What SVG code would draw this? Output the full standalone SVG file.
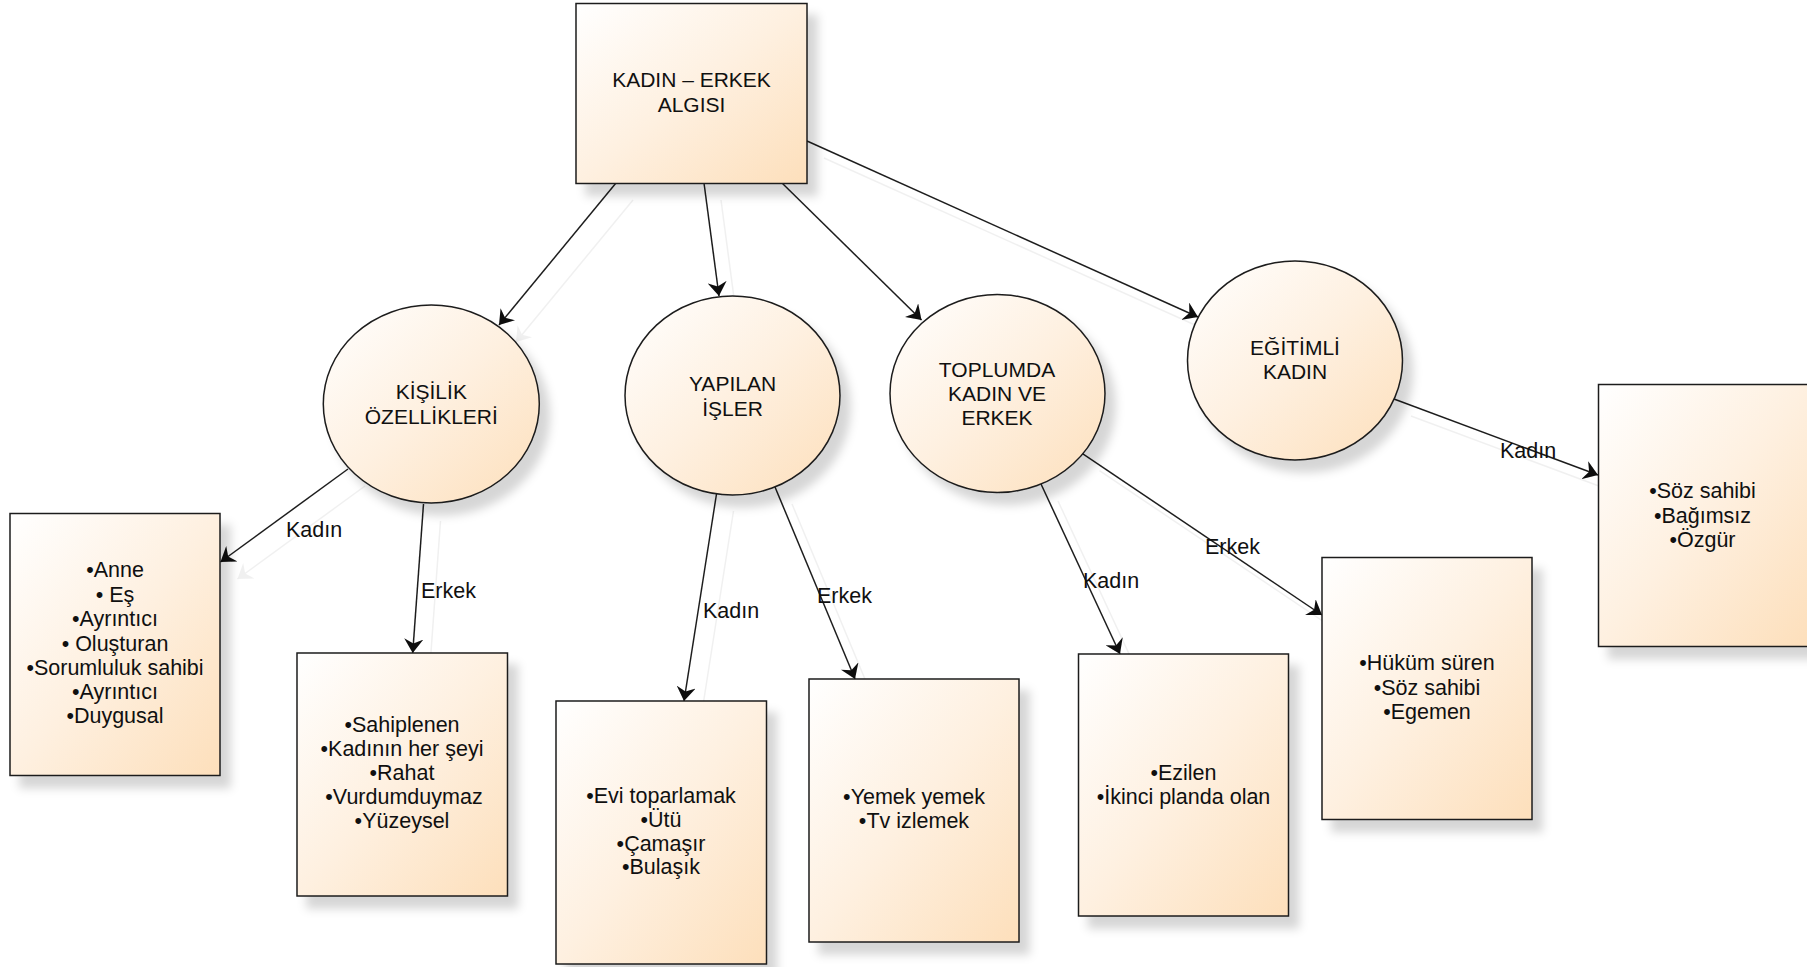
<svg xmlns="http://www.w3.org/2000/svg" width="1807" height="967" viewBox="0 0 1807 967">
<style>
  .node { fill: url(#peach); stroke: #1c1c1c; stroke-width: 1.5; }
  .title { font-family: "Liberation Sans", Arial, sans-serif; font-size: 21px; fill: #101010; text-anchor: middle; }
  .item { font-family: "Liberation Sans", Arial, sans-serif; font-size: 21.5px; fill: #101010; text-anchor: middle; }
  .lbl { font-family: "Liberation Sans", Arial, sans-serif; font-size: 21.5px; fill: #101010; }
  .edge { fill: none; stroke: #1e1e1e; stroke-width: 1.5; marker-end: url(#arr); }
</style>
<defs>
  <linearGradient id="peach" x1="0" y1="0" x2="1" y2="1">
    <stop offset="0" stop-color="#ffffff"/>
    <stop offset="0.5" stop-color="#fef0e0"/>
    <stop offset="1" stop-color="#fddfbb"/>
  </linearGradient>
  <marker id="arr" markerUnits="userSpaceOnUse" markerWidth="14" markerHeight="19" viewBox="0 0 14 19" refX="14" refY="9.5" orient="auto">
    <path d="M0,0 L14,9.5 L0,19 L4.5,9.5 z" fill="#0a0a0a"/>
  </marker>
  <filter id="nsh" x="-10%" y="-10%" width="135%" height="135%">
    <feDropShadow dx="10" dy="12" stdDeviation="5" flood-color="#000" flood-opacity="0.16"/>
  </filter>
  <filter id="esh" x="-20%" y="-20%" width="150%" height="150%">
    <feDropShadow dx="17" dy="17" stdDeviation="0.7" flood-color="#000" flood-opacity="0.06"/>
  </filter>
</defs>
<rect width="1807" height="967" fill="#ffffff"/>

<g id="connectors">
  <g filter="url(#esh)">
    <line class="edge" x1="616" y1="183" x2="499" y2="325"/>
    <line class="edge" x1="704" y1="183" x2="719" y2="296"/>
    <line class="edge" x1="782" y1="183" x2="921.5" y2="320"/>
    <line class="edge" x1="807" y1="141" x2="1198" y2="317"/>
    <line class="edge" x1="348" y1="469" x2="220.5" y2="562"/>
    <line class="edge" x1="423.5" y1="504" x2="412.7" y2="653"/>
    <line class="edge" x1="716.5" y1="494" x2="684" y2="701"/>
    <line class="edge" x1="775" y1="487" x2="855" y2="679"/>
    <line class="edge" x1="1041" y1="484" x2="1120" y2="654"/>
    <line class="edge" x1="1082.5" y1="453.6" x2="1322" y2="615"/>
    <line class="edge" x1="1394" y1="399" x2="1598" y2="475"/>
  </g>
  <text class="lbl" x="286" y="537">Kadın</text>
  <text class="lbl" x="421" y="598">Erkek</text>
  <text class="lbl" x="703" y="618">Kadın</text>
  <text class="lbl" x="817" y="603">Erkek</text>
  <text class="lbl" x="1083" y="588">Kadın</text>
  <text class="lbl" x="1205" y="554">Erkek</text>
  <text class="lbl" x="1500" y="458">Kadın</text>
</g>

<g id="root">
  <rect class="node" filter="url(#nsh)" x="576" y="3.5" width="231" height="180"/>
  <text class="title" x="691.5" y="87">KADIN – ERKEK</text>
  <text class="title" x="691.5" y="111.5">ALGISI</text>
</g>

<g id="kisilik">
  <ellipse class="node" filter="url(#nsh)" cx="431.3" cy="404" rx="108" ry="99"/>
  <text class="title" x="431.3" y="399">KİŞİLİK</text>
  <text class="title" x="431.3" y="424">ÖZELLİKLERİ</text>
</g>

<g id="yapilan">
  <ellipse class="node" filter="url(#nsh)" cx="732.5" cy="395.5" rx="107.5" ry="99.5"/>
  <text class="title" x="732.5" y="390.5">YAPILAN</text>
  <text class="title" x="732.5" y="415.5">İŞLER</text>
</g>

<g id="toplumda">
  <ellipse class="node" filter="url(#nsh)" cx="997.5" cy="393.5" rx="107.5" ry="99"/>
  <text class="title" x="997" y="376.5">TOPLUMDA</text>
  <text class="title" x="997" y="400.7">KADIN VE</text>
  <text class="title" x="997" y="425">ERKEK</text>
</g>

<g id="egitimli">
  <ellipse class="node" filter="url(#nsh)" cx="1295" cy="360.5" rx="107.5" ry="99.5"/>
  <text class="title" x="1295" y="355">EĞİTİMLİ</text>
  <text class="title" x="1295" y="379.3">KADIN</text>
</g>

<g id="kisilik-kadin">
  <rect class="node" filter="url(#nsh)" x="10" y="513.5" width="210" height="262"/>
  <text class="item" x="115" y="577.3">•Anne</text>
  <text class="item" x="115" y="601.6">• Eş</text>
  <text class="item" x="115" y="625.8">•Ayrıntıcı</text>
  <text class="item" x="115" y="650.5">• Oluşturan</text>
  <text class="item" x="115" y="674.8">•Sorumluluk sahibi</text>
  <text class="item" x="115" y="699">•Ayrıntıcı</text>
  <text class="item" x="115" y="723">•Duygusal</text>
</g>

<g id="kisilik-erkek">
  <rect class="node" filter="url(#nsh)" x="297" y="653" width="210.5" height="243"/>
  <text class="item" x="402" y="731.7">•Sahiplenen</text>
  <text class="item" x="402" y="755.5">•Kadının her şeyi</text>
  <text class="item" x="402" y="779.5">•Rahat</text>
  <text class="item" x="404" y="804">•Vurdumduymaz</text>
  <text class="item" x="402" y="828.3">•Yüzeysel</text>
</g>

<g id="yapilan-kadin">
  <rect class="node" filter="url(#nsh)" x="556" y="701" width="210.5" height="263"/>
  <text class="item" x="661" y="802.7">•Evi toparlamak</text>
  <text class="item" x="661" y="827">•Ütü</text>
  <text class="item" x="661" y="850.5">•Çamaşır</text>
  <text class="item" x="661" y="874">•Bulaşık</text>
</g>

<g id="yapilan-erkek">
  <rect class="node" filter="url(#nsh)" x="809" y="679" width="210" height="263"/>
  <text class="item" x="914" y="804">•Yemek yemek</text>
  <text class="item" x="914" y="828.3">•Tv izlemek</text>
</g>

<g id="toplumda-kadin">
  <rect class="node" filter="url(#nsh)" x="1078.5" y="654" width="210" height="262"/>
  <text class="item" x="1183.5" y="780">•Ezilen</text>
  <text class="item" x="1183.5" y="804">•İkinci planda olan</text>
</g>

<g id="toplumda-erkek">
  <rect class="node" filter="url(#nsh)" x="1322" y="557.5" width="210" height="262"/>
  <text class="item" x="1427" y="670">•Hüküm süren</text>
  <text class="item" x="1427" y="695">•Söz sahibi</text>
  <text class="item" x="1427" y="719.3">•Egemen</text>
</g>

<g id="egitimli-kadin">
  <rect class="node" filter="url(#nsh)" x="1598.5" y="384.5" width="210" height="262"/>
  <text class="item" x="1702.5" y="497.7">•Söz sahibi</text>
  <text class="item" x="1702.5" y="522.7">•Bağımsız</text>
  <text class="item" x="1702.5" y="546.7">•Özgür</text>
</g>
</svg>
